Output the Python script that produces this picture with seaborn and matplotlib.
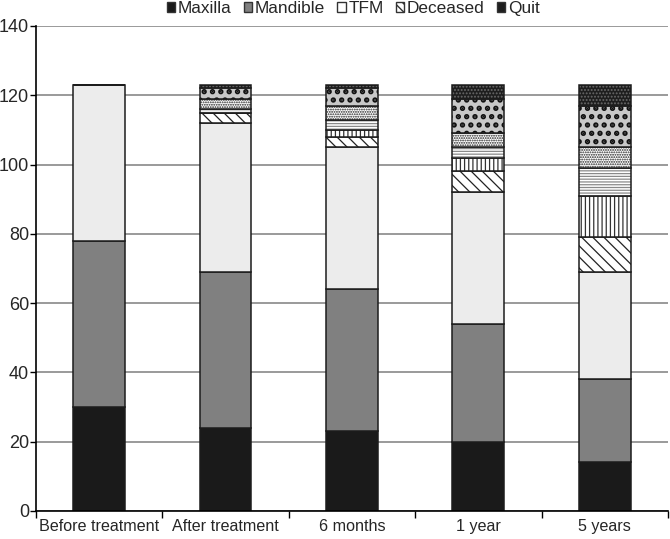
import numpy as np
import pandas as pd
import matplotlib
matplotlib.use("Agg")
import matplotlib.pyplot as plt
import matplotlib.patches as mpatches
import seaborn as sns

# data
categories = ["Before treatment", "After treatment", "6 months", "1 year", "5 years"]
maxilla = [30, 24, 23, 20, 14]
mandible = [48, 45, 41, 34, 24]
tfm = [45, 43, 41, 38, 31]
dec_maxilla = [0, 3, 3, 6, 10]
dec_mandible = [0, 0, 2, 4, 12]
dec_tfm = [0, 1, 3, 3, 8]
quit_maxilla = [0, 3, 4, 4, 6]
quit_mandible = [0, 3, 5, 10, 12]
quit_tfm = [0, 1, 1, 4, 6]

legend_labels = ["Maxilla", "Mandible", "TFM", "Deceased", "Quit"]

# (values, face colour, hatch, hatch colour, hatch linewidth)
layers = [
    (maxilla, "#1a1a1a", None, "#1a1a1a", 1.0),
    (mandible, "#808080", None, "#808080", 1.0),
    (tfm, "#ececec", None, "#ececec", 1.0),
    (dec_maxilla, "white", "\\\\\\", "#222222", 0.9),
    (dec_mandible, "white", "||||", "#333333", 0.9),
    (dec_tfm, "white", "------", "#8a8a8a", 0.9),
    (quit_maxilla, "white", ".......", "#222222", 0.9),
    (quit_mandible, "#c8c8c8", "..", "#111111", 2.6),
    (quit_tfm, "#1e1e1e", ".....", "#6a6a6a", 0.9),
]

sns.set_style("white")
plt.rcParams["font.family"] = ["Liberation Sans", "DejaVu Sans"]

fig = plt.figure(figsize=(6.7, 5.39), dpi=100)
ax = fig.add_axes([0.0537, 0.052, 0.9433, 0.8998])

bottom = np.zeros(len(categories))
for values, face, hatch, hcol, hlw in layers:
    df = pd.DataFrame({"stage": categories, "count": values})
    # fill + hatch (hatch colour follows edge colour, so no outline here)
    with plt.rc_context({"hatch.linewidth": hlw}):
        sns.barplot(data=df, x="stage", y="count", order=categories, ax=ax,
                    color=face, saturation=1, width=0.41, errorbar=None,
                    bottom=bottom, hatch=hatch, edgecolor=hcol, linewidth=0)
    for p in ax.containers[-1]:
        if hasattr(p, "set_hatch_linewidth"):
            p.set_hatch_linewidth(hlw)
    # black outline of each segment
    sns.barplot(data=df, x="stage", y="count", order=categories, ax=ax,
                color="#1c1c1c", fill=False, width=0.41, errorbar=None,
                bottom=bottom, linewidth=1.1)
    bottom = bottom + np.array(values)

ax.set_xlim(-0.5, 4.5)
ax.set_ylim(0, 140)
ax.set_yticks(np.arange(0, 141, 20))
ax.set_xticks(range(len(categories)))
ax.set_xticklabels(categories)
ax.set_xticks(np.arange(-0.5, 5, 1), minor=True)
ax.set_xlabel("")
ax.set_ylabel("")

ax.set_axisbelow(True)
ax.yaxis.grid(True, color="#9a9a9a", linewidth=1.4)
ax.xaxis.grid(False)
for s in ["top", "right"]:
    ax.spines[s].set_visible(False)
for s in ["left", "bottom"]:
    ax.spines[s].set_color("black")
    ax.spines[s].set_linewidth(1.2)

ax.tick_params(axis="y", which="major", length=4, width=1, color="black",
               direction="out", labelsize=13, pad=1, left=True)
ax.tick_params(axis="x", which="major", length=0, labelsize=11.6, pad=6)
ax.tick_params(axis="x", which="minor", length=5, width=1, color="black",
               direction="out", bottom=True)

handles = [
    mpatches.Patch(facecolor="#1a1a1a", edgecolor="#333333"),
    mpatches.Patch(facecolor="#808080", edgecolor="#333333"),
    mpatches.Patch(facecolor="white", edgecolor="#333333"),
    mpatches.Patch(facecolor="white", edgecolor="#333333", hatch="\\\\\\\\"),
    mpatches.Patch(facecolor="#1e1e1e", edgecolor="#333333"),
]
fig.legend(handles, legend_labels, loc="upper center", bbox_to_anchor=(0.527, 1.026),
           ncol=5, frameon=False, fontsize=12.4, handlelength=0.5, handleheight=0.5,
           handletextpad=0.15, columnspacing=0.7)

fig.savefig("out.png", dpi=100)
